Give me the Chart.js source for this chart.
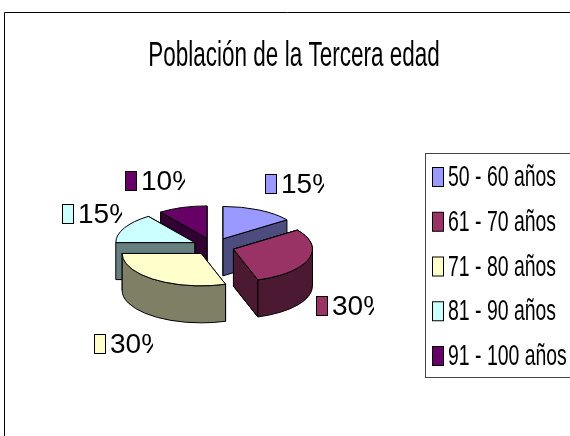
<!DOCTYPE html>
<html lang="es">
<head>
<meta charset="utf-8">
<title>Población de la Tercera edad</title>
<script src="https://cdn.jsdelivr.net/npm/chart.js@4"></script>
<style>
    html, body { margin: 0; background: #fff; }
    canvas { display: block; }
</style>
</head>
<body>
<canvas id="grafico" width="570" height="436"></canvas>
<script>
const titulo = 'Población de la Tercera edad';
const categorias = ['50 - 60 años', '61 - 70 años', '71 - 80 años', '81 - 90 años', '91 - 100 años'];
const valores = [15, 30, 30, 15, 10];
const colores = ['#9999FF', '#993366', '#FFFFCC', '#CCFFFF', '#660066'];
const coloresLado = ['#4C4C7F', '#4C1933', '#7F7F66', '#667F7F', '#330033'];

// Aspecto del pastel 3D
const inclinacion = 0.41;
const profundidad = 37;
const separacion = 21;

// Etiquetas: caja de color y recorte del texto (el original corta el %)
const etiquetas = [
    { x: 265, y: 174, corte: 324 },
    { x: 316, y: 296, corte: 374 },
    { x: 94, y: 334, corte: 153 },
    { x: 62, y: 204, corte: 122 },
    { x: 125, y: 171, corte: 185 }
];

function textoEstrecho(ctx, texto, x, y, px, escala, alinear) {
    ctx.save();
    ctx.translate(x, y);
    ctx.scale(escala, 1);
    ctx.font = px + 'px "Liberation Sans"';
    ctx.fillStyle = '#000';
    ctx.textBaseline = 'middle';
    ctx.textAlign = alinear || 'left';
    ctx.fillText(texto, 0, 0);
    ctx.restore();
}

function caja(ctx, x, y, w, h, color) {
    ctx.fillStyle = color;
    ctx.strokeStyle = '#000';
    ctx.lineWidth = 1;
    ctx.fillRect(x + 0.5, y + 0.5, w, h);
    ctx.strokeRect(x + 0.5, y + 0.5, w, h);
}

function rellenar(ctx, color) {
    ctx.fillStyle = color;
    ctx.fill();
    ctx.strokeStyle = '#000';
    ctx.lineWidth = 1;
    ctx.lineJoin = 'round';
    ctx.stroke();
}

function dibujarPorcion(ctx, p) {
    const ry = p.r * inclinacion;
    const borde = a => [p.x + Math.cos(a) * p.r, p.y + Math.sin(a) * ry];

    // caras rectas: primero la de atras
    [p.ini, p.fin].sort((a, b) => Math.sin(a) - Math.sin(b)).forEach(a => {
        const [bx, by] = borde(a);
        ctx.beginPath();
        ctx.moveTo(p.x, p.y);
        ctx.lineTo(bx, by);
        ctx.lineTo(bx, by + profundidad);
        ctx.lineTo(p.x, p.y + profundidad);
        ctx.closePath();
        rellenar(ctx, p.lado);
    });

    // pared exterior, solo la parte que mira al frente
    const desde = Math.max(p.ini, 0);
    const hasta = Math.min(p.fin, Math.PI);
    if (hasta > desde) {
        ctx.beginPath();
        ctx.ellipse(p.x, p.y, p.r, ry, 0, desde, hasta);
        ctx.ellipse(p.x, p.y + profundidad, p.r, ry, 0, hasta, desde, true);
        ctx.closePath();
        rellenar(ctx, p.lado);
    }

    // cara superior
    ctx.beginPath();
    ctx.moveTo(p.x, p.y);
    ctx.ellipse(p.x, p.y, p.r, ry, 0, p.ini, p.fin);
    ctx.closePath();
    rellenar(ctx, p.color);
}

const pastel3d = {
    id: 'pastel3d',
    beforeDraw(chart) {
        const ctx = chart.ctx;
        // marco del grafico, sin lado derecho ni inferior
        ctx.save();
        ctx.strokeStyle = '#000';
        ctx.lineWidth = 1;
        ctx.beginPath();
        ctx.moveTo(4.5, 436);
        ctx.lineTo(4.5, 12.5);
        ctx.lineTo(570, 12.5);
        ctx.stroke();
        ctx.restore();
        textoEstrecho(ctx, titulo, 294, 56, 35, 0.643, 'center');
    },
    beforeDatasetDraw(chart, args) {
        const ctx = chart.ctx;
        const porciones = args.meta.data.map((arco, i) => {
            const g = arco.getProps(['x', 'y', 'startAngle', 'endAngle', 'outerRadius'], true);
            const medio = (g.startAngle + g.endAngle) / 2;
            // llevar los angulos a 0..2PI para comparar con la pared frontal
            const ini = (g.startAngle + Math.PI * 2) % (Math.PI * 2);
            return {
                x: g.x + Math.cos(medio) * separacion,
                y: g.y + Math.sin(medio) * separacion * inclinacion,
                r: g.outerRadius,
                ini: ini,
                fin: ini + (g.endAngle - g.startAngle),
                medio: medio,
                color: colores[i],
                lado: coloresLado[i]
            };
        });
        ctx.save();
        porciones.slice().sort((a, b) => Math.sin(a.medio) - Math.sin(b.medio)).forEach(p => {
            dibujarPorcion(ctx, p);
            // la porcion que cruza el angulo 0 tambien tiene pared al otro lado
            if (p.fin > Math.PI * 2) {
                dibujarPorcion(ctx, { ...p, ini: p.ini - Math.PI * 2, fin: p.fin - Math.PI * 2 });
            }
        });
        ctx.restore();
        return false;
    },
    afterDraw(chart) {
        const ctx = chart.ctx;
        // etiquetas de porcentaje
        valores.forEach((v, i) => {
            const e = etiquetas[i];
            caja(ctx, e.x, e.y, 11, 19, colores[i]);
            ctx.save();
            ctx.beginPath();
            ctx.rect(e.x, e.y - 10, e.corte - e.x, 40);
            ctx.clip();
            textoEstrecho(ctx, v + '%', e.x + 16, e.y + 11, 28, 1);
            ctx.restore();
        });
        // leyenda
        ctx.strokeStyle = '#444';
        ctx.lineWidth = 1;
        ctx.strokeRect(425.5, 153.5, 150, 224);
        chart.data.labels.forEach((nombre, i) => {
            const fila = 177 + i * 44.75;
            caja(ctx, 432, fila - 10, 11, 19, colores[i]);
            textoEstrecho(ctx, nombre, 448, fila + 1, 29, 0.67);
        });
    }
};

new Chart(document.getElementById('grafico'), {
    type: 'pie',
    data: {
        labels: categorias,
        datasets: [{ data: valores, backgroundColor: colores, borderWidth: 0 }]
    },
    options: {
        responsive: false,
        animation: false,
        layout: { padding: { left: 134.5, right: 277.5, top: 167.5, bottom: 110.5 } },
        plugins: {
            legend: { display: false },
            title: { display: false },
            tooltip: { enabled: false }
        }
    },
    plugins: [pastel3d]
});
</script>
</body>
</html>
